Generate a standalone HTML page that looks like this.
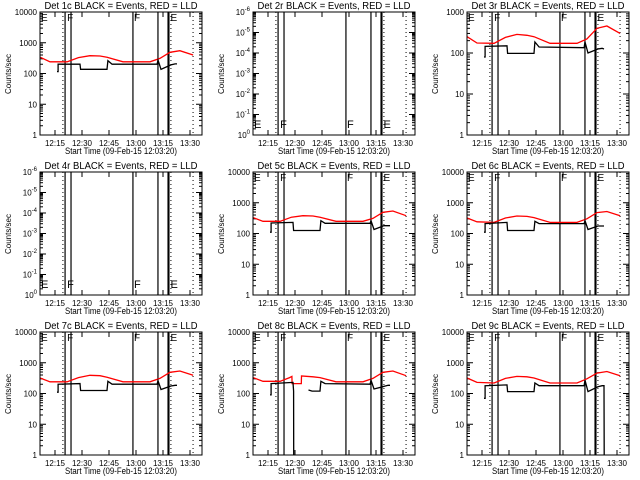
<!DOCTYPE html>
<html><head><meta charset="utf-8"><style>
html,body{margin:0;padding:0;background:#fff}
svg{display:block}
text{font-family:"Liberation Sans",sans-serif;fill:#000}
</style></head><body>
<svg id="c" width="640" height="480" viewBox="0 0 640 480"></svg>
<script>
const panelTitles=["Det 1c","Det 2r","Det 3r","Det 4r","Det 5c","Det 6c","Det 7c","Det 8c","Det 9c"];
const xTickLabels=["12:15","12:30","12:45","13:00","13:15","13:30"];
const xTickMinutes=[15,30,45,60,75,90];
const vLinesSolid=[20.6,23.9,58.3,72.2,77.8,78.3];
const vLinesDotted=[19.4,79.4,91.7];
const flagTimes=[6.7,21.2,58.3,78.6];
const flagLetters=["E","F","F","E"];
const yDecades=[4,6,3,6,4,4,4,4,4];
const emptyPanels=[false,true,false,true,false,false,false,false,false];
const redT=[[6.7,12.2,21.7,28,34.4,40,43.9,52.8,67.8,73.3,78.9,84.4,91.7],[],
[6.7,12.2,21.7,28,34.4,40,43.9,52.8,67.8,73.3,78.9,84.4,91.7],[],
[6.7,12.2,21.7,28,34.4,40,43.9,52.8,67.8,73.3,78.9,84.4,91.7],
[6.7,12.2,21.7,28,34.4,40,43.9,52.8,67.8,73.3,78.9,84.4,91.7],
[6.7,12.2,21.7,28,34.4,40,43.9,52.8,67.8,73.3,78.9,84.4,91.7],
[6.7,12.2,21.7,27,28.3,28.4,33.5,33.6,40,43.9,52.8,67.8,73.3,78.9,84.4,91.7],
[6.7,12.2,21.7,28,34.4,40,43.9,52.8,67.8,73.3,78.9,84.4,91.7]];
const redV=[[340,240,240,330,380,370,340,240,240,310,490,550,400],[],
[250,175,172,240,285,270,250,172,172,220,400,455,300],[],
[330,250,250,340,380,370,340,250,250,310,490,540,380],
[320,240,230,320,370,360,330,230,230,300,480,520,380],
[320,240,240,330,390,380,340,240,240,310,490,540,390],
[330,250,250,330,360,210,210,370,350,330,240,240,310,490,540,380],
[320,230,220,310,360,350,320,220,220,300,460,520,380]];
const blackT=[[16.1,16.7,16.7,28.9,29.2,43.9,44.4,46.7,71.7,72.2,73.9,79.4,81.7,82.8],[],
[16.1,16.7,16.7,28.9,29.2,43.9,44.4,46.7,71.7,72.2,73.9,79.4,81.7,82.8],[],
[16.1,16.7,16.7,28.9,29.2,43.9,44.4,46.7,71.7,72.2,73.9,79.4,81.7,82.8],
[16.1,16.7,16.7,28.9,29.2,43.9,44.4,46.7,71.7,72.2,73.9,79.4,81.7,82.8],
[16.1,16.7,16.7,28.9,29.2,43.9,44.4,46.7,71.7,72.2,73.9,79.4,81.7,82.8],
[16.1,16.7,16.7,28.9,29.2,29.3,null,37.5,39.5,43.9,44.4,46.7,71.7,72.2,73.9,79.4,81.7,82.8],
[16.1,16.7,16.7,28.9,29.2,43.9,44.4,46.7,71.7,72.2,73.9,79.4,81.7,82.8,82.9]];
const blackV=[[115,115,200,200,137,137,260,200,200,275,137,190,205,205],[],
[80,80,145,150,98,98,185,140,135,185,100,125,130,125],[],
[110,110,220,230,125,125,260,215,215,260,135,180,180,180],
[110,110,210,230,125,125,250,210,210,260,135,175,175,175],
[110,110,200,210,125,125,250,200,200,260,135,175,185,185],
[90,90,210,230,120,1,null,130,120,120,250,210,200,270,140,170,185,185],
[70,70,180,190,115,115,220,180,180,270,115,165,180,180,1]];
const svg=document.getElementById('c');
const NS='http://www.w3.org/2000/svg';
function mk(tag,attrs,parent){const e=document.createElementNS(NS,tag);for(const k in attrs)e.setAttribute(k,attrs[k]);parent.appendChild(e);return e;}
const cols=[0,213,427],rows=[0,160,320];
for(let p=0;p<9;p++){
 const ox=cols[p%3],oy=rows[Math.floor(p/3)];
 const L=ox+40,R=ox+202,T=oy+12,B=oy+135;
 const dec=yDecades[p];
 const xs=t=>ox+55+(t-15)*1.8;
 const ys=v=>B-Math.log10(v)/dec*(B-T);
 const g=mk('g',{},svg);
 
 
 const title=mk('text',{x:ox+121,y:oy+9,'font-size':10,'text-anchor':'middle',textLength:153,lengthAdjust:'spacingAndGlyphs'},g);
 title.textContent=panelTitles[p]+" BLACK = Events, RED = LLD";
 
 
 const yl=mk('text',{x:0,y:0,'font-size':8,'text-anchor':'middle',transform:`translate(${ox+11},${oy+74}) rotate(-90)`},g);
 yl.textContent="Counts/sec";
 
 
 const xl=mk('text',{x:ox+121,y:oy+154,'font-size':9,'text-anchor':'middle',textLength:112,lengthAdjust:'spacingAndGlyphs'},g);
 xl.textContent="Start Time (09-Feb-15 12:03:20)";
 
 
 for(let d=0;d<=dec;d++){
  const y=ys(Math.pow(10,d));
  mk('line',{x1:L,x2:L+6,y1:y,y2:y,stroke:'#000'},g);
  mk('line',{x1:R-6,x2:R,y1:y,y2:y,stroke:'#000'},g);
  const lab=mk('text',{x:L-3,y:y+3,'font-size':8,'text-anchor':'end'},g);
  
  
  if(emptyPanels[p]){
   const ts=mk('tspan',{},lab);ts.textContent="10";
   const sp=mk('tspan',{dy:-4,'font-size':6},lab);sp.textContent=d===0?"0":"-"+d;
  } else lab.textContent=String(Math.pow(10,d));
  if(d<dec){for(let m=2;m<10;m++){const ym=ys(m*Math.pow(10,d));
   mk('line',{x1:L,x2:L+3,y1:ym,y2:ym,stroke:'#000'},g);
   mk('line',{x1:R-3,x2:R,y1:ym,y2:ym,stroke:'#000'},g);}}
 }
 xTickMinutes.forEach((t,i)=>{const x=xs(t);
  mk('line',{x1:x,x2:x,y1:B,y2:B-5,stroke:'#000'},g);
  mk('line',{x1:x,x2:x,y1:T,y2:T+5,stroke:'#000'},g);
  const lab=mk('text',{x:x,y:oy+146,'font-size':8,'text-anchor':'middle'},g);
  lab.textContent=xTickLabels[i];
  
  
 });
 vLinesSolid.forEach(t=>{const x=xs(t);const l=mk('line',{x1:x,x2:x,y1:T,y2:B,stroke:'#000','stroke-width':1.2},g);
  
  });
 vLinesDotted.forEach(t=>{const x=xs(t);const l=mk('line',{x1:x,x2:x,y1:T,y2:B,stroke:'#000','stroke-dasharray':'1,3'},g);
  
  });
 flagTimes.forEach((t,i)=>{const x=xs(t)+1;const fy=emptyPanels[p]?B-7:T+9;
  const f=mk('text',{x:x,y:fy,'font-size':emptyPanels[p]?11:10},g);f.textContent=flagLetters[i];
  
  });
 function draw(T_,V_,color,name){let seg=[];const segs=[];
  for(let i=0;i<T_.length;i++){if(T_[i]===null){if(seg.length)segs.push(seg);seg=[];}else seg.push(xs(T_[i]).toFixed(1)+','+ys(V_[i]).toFixed(1));}
  if(seg.length)segs.push(seg);
  segs.forEach(s=>{const pl=mk('polyline',{points:s.join(' '),fill:'none',stroke:color,'stroke-width':1.3},g);
   
   });}
 if(redT[p].length)draw(redT[p],redV[p],'#ff0000','lld-series-red');
 if(blackT[p].length)draw(blackT[p],blackV[p],'#000','events-series-black');
 const box=mk('rect',{x:L,y:T,width:R-L,height:B-T,fill:'none',stroke:'#000'},g);
 
 
}
</script>
</body></html>
